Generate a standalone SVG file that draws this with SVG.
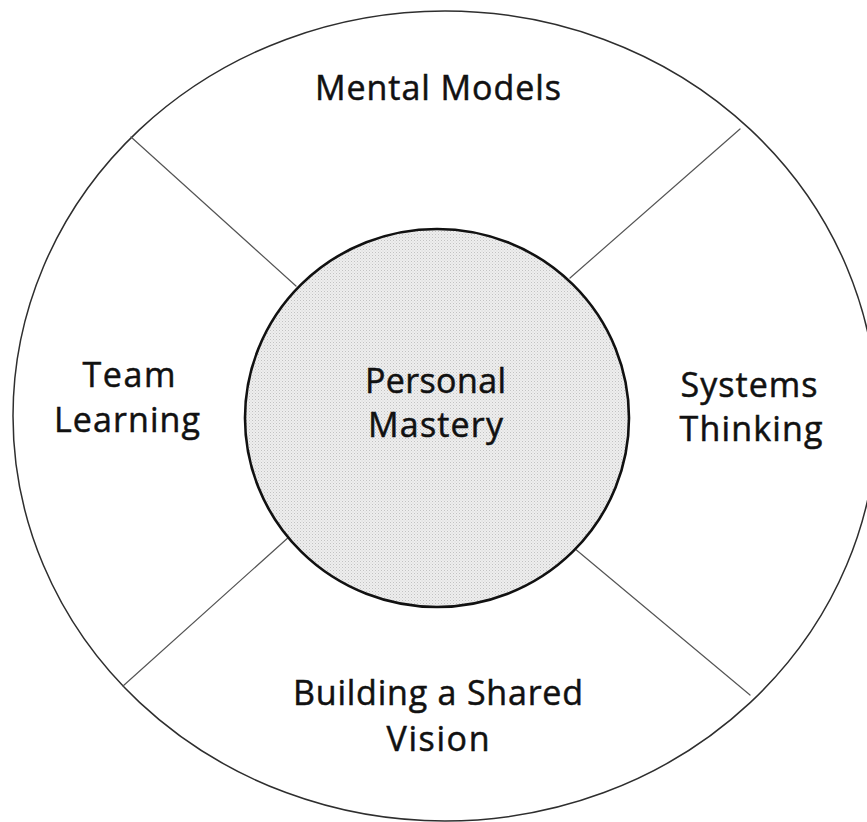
<svg xmlns="http://www.w3.org/2000/svg" width="867" height="822" viewBox="0 0 867 822">
  <defs>
    <!-- fine halftone dots for the shaded core -->
    <pattern id="dots" width="3" height="3" patternUnits="userSpaceOnUse">
      <rect width="3" height="3" fill="#eeeeee"/>
      <rect x="0" y="0" width="1" height="1" fill="#c2c2c2"/>
      <rect x="1.5" y="1.5" width="1" height="1" fill="#d4d4d4"/>
    </pattern>
    <style>
      .ring { fill: #ffffff; stroke: #2e2e2e; stroke-width: 1.5; }
      .core { fill: url(#dots); stroke: #111111; stroke-width: 2.6; }
      .spoke { stroke: #555555; stroke-width: 1.2; fill: none; stroke-linecap: round; }
      .label { font-family: "Open Sans", "Noto Sans", "DejaVu Sans", sans-serif; font-size: 34px; fill: #111111; stroke: #111111; stroke-width: 0.5; text-anchor: middle; }
    </style>
  </defs>

  <rect width="867" height="822" fill="#ffffff"/>

  <!-- outer ring -->
  <g id="ring">
    <ellipse class="ring" cx="445" cy="416" rx="432" ry="405"/>
  </g>

  <!-- dividing spokes between the ring sectors -->
  <g id="connectors">
    <line class="spoke" x1="131" y1="137" x2="296" y2="286"/>
    <line class="spoke" x1="740" y1="129" x2="570" y2="278"/>
    <line class="spoke" x1="123" y1="686" x2="290" y2="536"/>
    <line class="spoke" x1="750" y1="695" x2="574" y2="548"/>
  </g>

  <g id="mental-models">
    <text class="label" x="438" y="100" textLength="246" lengthAdjust="spacing">Mental Models</text>
  </g>

  <g id="team-learning">
    <text class="label" x="129" y="387" textLength="93" lengthAdjust="spacing">Team</text>
    <text class="label" x="127" y="432" textLength="146" lengthAdjust="spacing">Learning</text>
  </g>

  <g id="systems-thinking">
    <text class="label" x="749" y="397" textLength="137" lengthAdjust="spacing">Systems</text>
    <text class="label" x="751" y="441" textLength="143" lengthAdjust="spacing">Thinking</text>
  </g>

  <g id="shared-vision">
    <text class="label" x="438" y="705" textLength="290" lengthAdjust="spacing">Building a Shared</text>
    <text class="label" x="438" y="751" textLength="103" lengthAdjust="spacing">Vision</text>
  </g>

  <g id="personal-mastery">
    <ellipse class="core" cx="437" cy="418" rx="192" ry="189"/>
    <text class="label" x="435.5" y="393" textLength="141" lengthAdjust="spacing">Personal</text>
    <text class="label" x="435.5" y="437" textLength="135" lengthAdjust="spacing">Mastery</text>
  </g>
</svg>
